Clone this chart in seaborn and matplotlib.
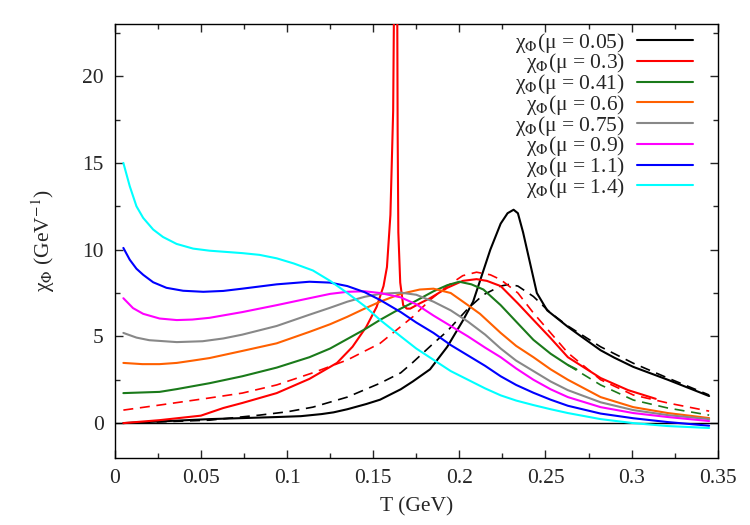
import matplotlib
matplotlib.use("Agg")
import matplotlib.pyplot as plt
import seaborn as sns
import numpy as np
from matplotlib.ticker import MultipleLocator, FuncFormatter

# values (T in GeV, chi in GeV^-1)
t_005 = [0.005, 0.055, 0.094, 0.108, 0.12, 0.127, 0.135, 0.146, 0.154, 0.16, 0.166, 0.173, 0.183,
         0.193, 0.202, 0.208, 0.214, 0.218, 0.224, 0.228, 0.2315, 0.234, 0.237, 0.241, 0.245, 0.251,
         0.263, 0.27, 0.282, 0.29, 0.301, 0.321, 0.345]
chi_005 = [0.0, 0.23, 0.35, 0.4, 0.52, 0.62, 0.8, 1.1, 1.35, 1.65, 1.95, 2.4, 3.1,
           4.4, 5.9, 7.0, 8.8, 10.0, 11.5, 12.1, 12.3, 12.1, 11.0, 9.25, 7.5, 6.5,
           5.55, 5.05, 4.2, 3.77, 3.24, 2.5, 1.56]

t_005d = [0.005, 0.055, 0.084, 0.1, 0.115, 0.135, 0.154, 0.166, 0.173, 0.185, 0.193, 0.205, 0.214,
          0.224, 0.229, 0.234, 0.243, 0.253, 0.263, 0.282, 0.301, 0.321, 0.345]
chi_005d = [0.0, 0.17, 0.46, 0.65, 0.92, 1.5, 2.3, 2.9, 3.5, 4.6, 5.3, 6.6, 7.4,
            7.9, 8.0, 7.9, 7.3, 6.35, 5.6, 4.4, 3.45, 2.6, 1.62]

t_03 = [0.005, 0.026, 0.05, 0.063, 0.074, 0.094, 0.113, 0.129, 0.138, 0.146, 0.152, 0.156, 0.158,
        0.16, 0.1616, 0.162, 0.163, 0.164, 0.1642, 0.1646, 0.1657, 0.1674, 0.1695, 0.1715, 0.177,
        0.183, 0.193, 0.202, 0.21, 0.216, 0.224, 0.234, 0.243, 0.253, 0.263, 0.282, 0.298, 0.314]
chi_03 = [0.0, 0.17, 0.43, 0.87, 1.16, 1.73, 2.55, 3.47, 4.4, 5.55, 6.7, 7.9, 9.0,
          12.0, 18.0, 23.0, 45.0, 23.0, 16.8, 11.0, 8.1, 6.8, 6.6, 6.6, 6.9,
          7.2, 7.8, 8.2, 8.3, 8.2, 7.9, 6.9, 5.95, 4.9, 3.8, 2.6, 1.9, 1.4]

t_03d = [0.005, 0.026, 0.055, 0.074, 0.094, 0.115, 0.135, 0.154, 0.173, 0.183, 0.193, 0.202, 0.21,
         0.218, 0.224, 0.234, 0.243, 0.253, 0.263, 0.282, 0.301, 0.321, 0.345]
chi_03d = [0.75, 1.04, 1.45, 1.73, 2.2, 2.9, 3.64, 4.6, 6.13, 7.1, 7.9, 8.5, 8.7,
           8.55, 8.27, 7.5, 6.35, 5.2, 4.05, 2.5, 1.62, 1.16, 0.69]

t_041 = [0.005, 0.026, 0.036, 0.055, 0.074, 0.094, 0.113, 0.125, 0.135, 0.145, 0.154, 0.163, 0.173,
         0.185, 0.193, 0.2, 0.207, 0.214, 0.224, 0.233, 0.243, 0.253, 0.263, 0.268]
chi_041 = [1.73, 1.8, 1.96, 2.3, 2.7, 3.2, 3.8, 4.3, 4.85, 5.4, 5.95, 6.45, 6.95,
           7.6, 7.95, 8.15, 8.0, 7.7, 6.8, 5.85, 4.8, 4.0, 3.35, 3.1]

t_041d = [0.263, 0.282, 0.301, 0.321, 0.345]
chi_041d = [3.35, 2.2, 1.33, 0.87, 0.46]

t_06 = [0.005, 0.016, 0.026, 0.036, 0.045, 0.055, 0.074, 0.094, 0.113, 0.125, 0.135, 0.145, 0.154,
        0.166, 0.177, 0.185, 0.195, 0.205, 0.212, 0.224, 0.233, 0.243, 0.253, 0.263, 0.282, 0.301,
        0.321, 0.345]
chi_06 = [3.47, 3.4, 3.4, 3.47, 3.6, 3.75, 4.16, 4.6, 5.26, 5.7, 6.13, 6.6, 7.0,
          7.45, 7.7, 7.75, 7.5, 6.8, 6.3, 5.2, 4.45, 3.8, 3.1, 2.5, 1.5, 0.92,
          0.58, 0.29]

t_075 = [0.005, 0.0126, 0.02, 0.036, 0.051, 0.063, 0.074, 0.094, 0.113, 0.125, 0.135, 0.145, 0.154,
         0.166, 0.175, 0.185, 0.195, 0.205, 0.215, 0.224, 0.233, 0.243, 0.253, 0.263, 0.282, 0.301,
         0.321, 0.345]
chi_075 = [5.2, 4.93, 4.78, 4.67, 4.72, 4.88, 5.1, 5.6, 6.25, 6.65, 7.0, 7.28, 7.45,
           7.52, 7.4, 7.0, 6.5, 5.85, 5.1, 4.3, 3.6, 3.0, 2.4, 1.9, 1.2, 0.75,
           0.46, 0.23]

t_09 = [0.005, 0.0106, 0.0165, 0.026, 0.036, 0.045, 0.055, 0.074, 0.094, 0.113, 0.125, 0.135, 0.145,
        0.154, 0.166, 0.175, 0.185, 0.195, 0.205, 0.215, 0.224, 0.233, 0.243, 0.253, 0.263, 0.282,
        0.301, 0.321, 0.345]
chi_09 = [7.2, 6.63, 6.3, 6.03, 5.94, 5.97, 6.07, 6.4, 6.8, 7.2, 7.45, 7.57, 7.6,
          7.5, 7.25, 6.85, 6.2, 5.6, 5.0, 4.35, 3.8, 3.15, 2.5, 1.95, 1.5, 0.92,
          0.58, 0.35, 0.12]

t_11 = [0.005, 0.0087, 0.0126, 0.0165, 0.0223, 0.03, 0.0397, 0.0514, 0.063, 0.074, 0.094, 0.113,
        0.125, 0.135, 0.145, 0.154, 0.166, 0.175, 0.185, 0.195, 0.205, 0.215, 0.224, 0.233, 0.243,
        0.253, 0.263, 0.282, 0.301, 0.321, 0.345]
chi_11 = [10.1, 9.42, 8.9, 8.55, 8.12, 7.8, 7.63, 7.57, 7.62, 7.75, 8.0, 8.15,
          8.1, 7.9, 7.55, 7.1, 6.4, 5.8, 5.2, 4.5, 3.9, 3.3, 2.7, 2.2, 1.75,
          1.35, 1.0, 0.55, 0.28, 0.06, -0.15]

t_14 = [0.005, 0.0087, 0.0126, 0.0165, 0.0223, 0.028, 0.0359, 0.0455, 0.055, 0.074, 0.084, 0.094,
        0.104, 0.115, 0.125, 0.135, 0.145, 0.154, 0.166, 0.175, 0.185, 0.195, 0.205, 0.215, 0.224,
        0.233, 0.243, 0.253, 0.263, 0.282, 0.301, 0.321, 0.345]
chi_14 = [15.0, 13.66, 12.5, 11.83, 11.16, 10.73, 10.33, 10.06, 9.94, 9.8, 9.7, 9.5,
          9.2, 8.8, 8.2, 7.5, 6.75, 5.95, 5.0, 4.3, 3.65, 3.0, 2.5, 2.0, 1.6,
          1.3, 1.04, 0.8, 0.58, 0.23, 0.0, -0.17, -0.28]

mu_labels = ["0.05", "0.3", "0.41", "0.6", "0.75", "0.9", "1.1", "1.4"]
solid = [(t_005, chi_005), (t_03, chi_03), (t_041, chi_041), (t_06, chi_06),
         (t_075, chi_075), (t_09, chi_09), (t_11, chi_11), (t_14, chi_14)]
colors = ["#000000", "#ff0000", "#1a7a1a", "#ff6000", "#888888", "#ff00ff", "#0000ff", "#00ffff"]
dashed = [(t_005d, chi_005d, "#000000"), (t_03d, chi_03d, "#ff0000"), (t_041d, chi_041d, "#1a7a1a")]

sns.set_theme(style="ticks")
plt.rcParams["font.family"] = ["Liberation Serif", "DejaVu Serif"]
plt.rcParams["mathtext.fontset"] = "stix"

fig = plt.figure(figsize=(7.5, 5.25), dpi=100)
ax = fig.add_axes([0.153, 0.128, 0.804, 0.826])

ax.axhline(0, color="black", lw=1.0, zorder=1)

for t, c, col in dashed:
    sns.lineplot(x=t, y=c, ax=ax, color=col, lw=1.2, linestyle=(0, (6, 4)),
                 estimator=None, sort=False, zorder=2)

handles = []
for (t, c), col, mu in zip(solid, colors, mu_labels):
    sns.lineplot(x=t, y=c, ax=ax, color=col, lw=1.5, estimator=None, sort=False, zorder=3)
    handles.append(ax.lines[-1])
labels = [f"χ$_\\Phi$(μ = {mu})" for mu in mu_labels]

ax.set_xlim(0, 0.35)
ax.set_ylim(-2, 23)
ax.xaxis.set_major_locator(MultipleLocator(0.05))
ax.xaxis.set_minor_locator(MultipleLocator(0.025))
ax.yaxis.set_major_locator(MultipleLocator(5))
ax.yaxis.set_minor_locator(MultipleLocator(2.5))
ax.xaxis.set_major_formatter(FuncFormatter(lambda v, p: f"{v:g}"))
ax.tick_params(which="both", direction="in", top=True, right=True, width=1.0, labelsize=15.5)
ax.tick_params(which="major", length=6, pad=8)
ax.tick_params(which="minor", length=3.5)
for s in ax.spines.values():
    s.set_linewidth(1.0)
    s.set_color("black")

ax.set_xlabel("T (GeV)", fontsize=15.5, labelpad=7)
ax.set_ylabel("χ$_\\Phi$ (GeV$^{-1}$)", fontsize=15.5, labelpad=18)

ax.legend(handles, labels, loc="upper right", bbox_to_anchor=(0.969, 1.0), frameon=False,
          markerfirst=False, fontsize=15.5, handlelength=2.6, labelspacing=-0.15,
          borderaxespad=0.0, handletextpad=0.55, borderpad=0.3)

fig.savefig("out.png", dpi=100)
